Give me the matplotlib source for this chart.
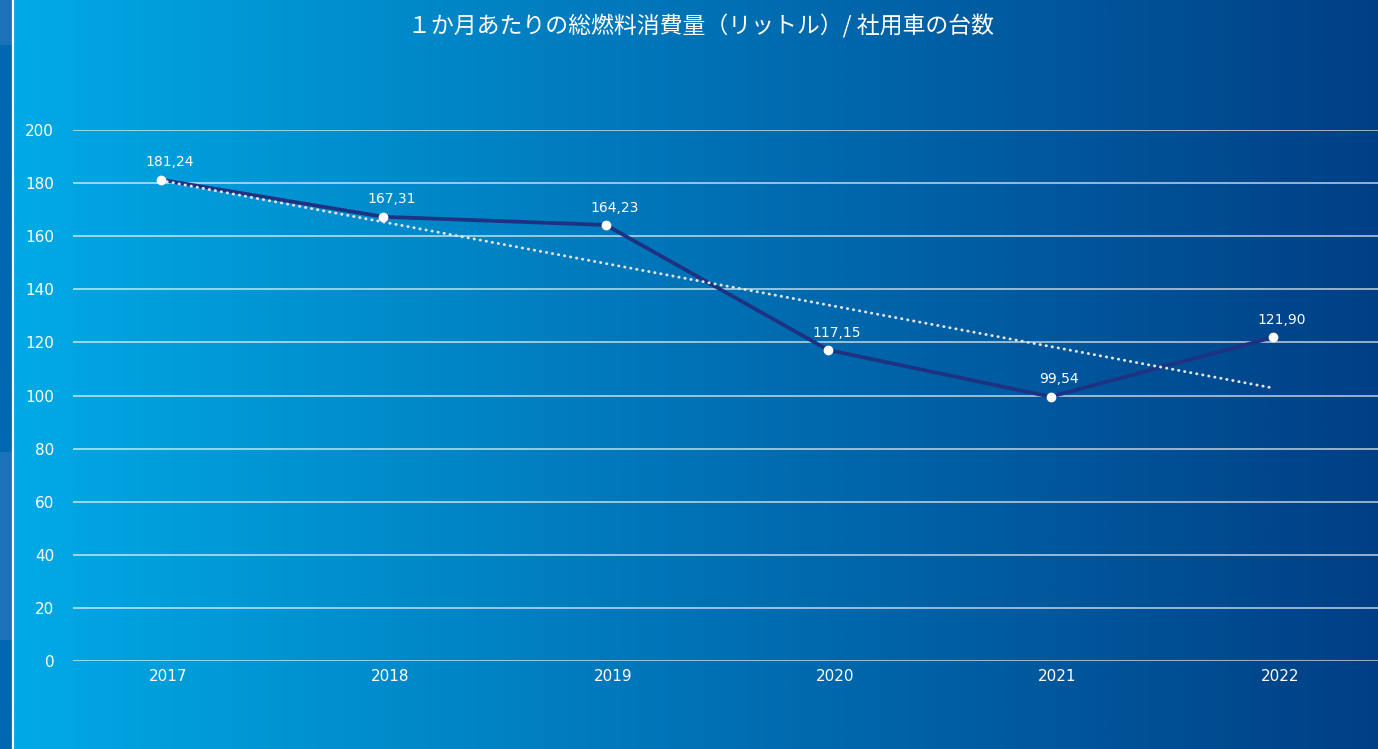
import numpy as np
import matplotlib
matplotlib.use("Agg")
import matplotlib.pyplot as plt
from matplotlib.colors import LinearSegmentedColormap, to_rgb
from matplotlib.transforms import ScaledTranslation

plt.rcParams['font.family'] = ['DejaVu Sans']

# ---- data ----
years = ["2017", "2018", "2019", "2020", "2021", "2022"]
fuel = [181.24, 167.31, 164.23, 117.15, 99.54, 121.90]
value_labels = ["181,24", "167,31", "164,23", "117,15", "99,54", "121,90"]
yticks = [0, 20, 40, 60, 80, 100, 120, 140, 160, 180, 200]
title = "１か月あたりの総燃料消費量（リットル）/ 社用車の台数"

W, H = 1378, 749
fig = plt.figure(figsize=(W / 100, H / 100), dpi=100)

# ---- background ----
bg = fig.add_axes([0, 0, 1, 1], zorder=-10)
bg.set_xlim(0, W)
bg.set_ylim(H, 0)
bg.axis('off')
c_left = np.array(to_rgb('#00aae6'))
c_mid = np.array(to_rgb('#0072b6'))
c_right = np.array(to_rgb('#003f86'))
cmap = LinearSegmentedColormap.from_list('g', [c_left, c_mid, c_right])
grad = np.linspace(0, 1, 512).reshape(1, -1)
bg.imshow(grad, cmap=cmap, aspect='auto', extent=(12, W, H, 0))
# left strip
bg.add_patch(plt.Rectangle((0, 0), 12, 45, color='#1a72bb', lw=0))
bg.add_patch(plt.Rectangle((0, 45), 12, 407, color='#0068b2', lw=0))
bg.add_patch(plt.Rectangle((0, 452), 12, 188, color='#1a72bb', lw=0))
bg.add_patch(plt.Rectangle((0, 640), 12, 109, color='#0068b2', lw=0))
bg.plot([12.5, 12.5], [0, H], color='white', lw=1.6)

# ---- main axes ----
left_px, right_px = 73, W
bottom_px, top_px = 661, 130
ax = fig.add_axes([left_px / W, (H - bottom_px) / H,
                   (right_px - left_px) / W, (bottom_px - top_px) / H])
ax.set_facecolor('none')
for s in ax.spines.values():
    s.set_visible(False)

x = np.arange(len(years))
step = 222.4
x0 = -(161 - left_px) / step
x1 = x0 + (right_px - left_px) / step
ax.set_xlim(x0, x1)
ax.set_ylim(0, 200)

ax.set_yticks(yticks)
ax.set_yticklabels([str(v) for v in yticks])
ax.set_xticks(x)
ax.set_xticklabels(years)
ax.tick_params(axis='both', length=0, colors='white', labelsize=11)
ax.tick_params(axis='y', pad=13.5)
ax.tick_params(axis='x', pad=6)
off = ScaledTranslation(7 / 100, 0, fig.dpi_scale_trans)
for lab in ax.get_xticklabels():
    lab.set_transform(lab.get_transform() + off)

ax.grid(axis='y', color='white', alpha=0.75, lw=1.1)
ax.set_axisbelow(True)

# main line
ax.plot(x, fuel, color='#1e3282', lw=2.7, zorder=3, solid_capstyle='round')
ax.plot(x, fuel, ls='none', marker='o', ms=6, mfc='white', mec='white', zorder=5, clip_on=False)

# linear trend
coef = np.polyfit(x, fuel, 1)
trend = np.polyval(coef, x)
ax.plot(x, trend, color='#e6e6e6', lw=2.1, ls=(0, (0.1, 2.0)), dash_capstyle='round', zorder=4)

# data labels
for xi, yi, lab in zip(x, fuel, value_labels):
    ax.annotate(lab, (xi, yi), xytext=(6, 7.5), textcoords='offset points',
                ha='center', va='bottom', color='white', fontsize=10)

fig.text(701, H - 26, title, transform=None, ha='center', va='center', color='white',
         fontsize=16.5, family=['Noto Sans CJK JP', 'DejaVu Sans'])

fig.savefig('out.png', dpi=100)
